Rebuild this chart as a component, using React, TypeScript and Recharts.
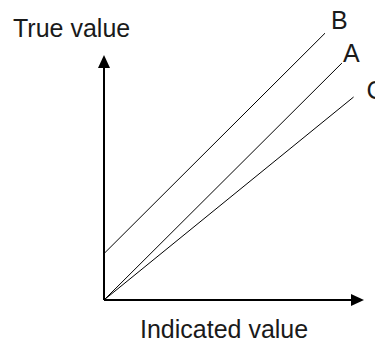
import { LineChart, Line, XAxis, YAxis, ReferenceLine } from "recharts";

// axis extents (arrow tips), in chart units
const axisMaxX = 100;
const axisMaxY = 84.5;

// each calibration line: start and end point
const lineB = [
  { indicated: 0, trueVal: 16 },
  { indicated: 85, trueVal: 92 },
];
const lineA = [
  { indicated: 0, trueVal: 0 },
  { indicated: 91.5, trueVal: 81.7 },
];
const lineC = [
  { indicated: 0, trueVal: 0 },
  { indicated: 96, trueVal: 70 },
];

const seriesNames = ["B", "A", "C"];
const seriesData = [lineB, lineA, lineC];
// label offsets from the end of each line (px)
const labelOffsets = [
  { dx: 6, dy: -4 },
  { dx: 1, dy: -1 },
  { dx: 13, dy: 2 },
];

const FONT = "Arial, 'Liberation Sans', sans-serif";
const INK = "#1a1a1a";

const ArrowAxis = (dir: "x" | "y") => (p: any) => {
  const { x1, y1, x2, y2 } = p;
  const head =
    dir === "y"
      ? `${x2},${y2} ${x2 - 6},${y2 + 13} ${x2 + 6},${y2 + 13}`
      : `${x2},${y2} ${x2 - 13},${y2 - 6} ${x2 - 13},${y2 + 6}`;
  return (
    <g>
      <line x1={x1} y1={y1} x2={dir === "y" ? x2 : x2 - 8} y2={dir === "y" ? y2 + 8 : y2} stroke="#000" strokeWidth={2} />
      <polygon points={head} fill="#000" />
    </g>
  );
};

const endLabel = (name: string, i: number, last: number) => (p: any) => {
  if (p.index !== last) return null;
  const o = labelOffsets[i];
  return (
    <text x={p.x + o.dx} y={p.y + o.dy} fontSize={25} fontFamily={FONT} fill={INK}>
      {name}
    </text>
  );
};

export default function App() {
  return (
    <div style={{ position: "absolute", left: 0, top: 0, width: 375, height: 342, background: "#fff", overflow: "hidden" }}>
      <LineChart width={375} height={342} margin={{ top: 10, right: 11, left: 104, bottom: 42 }}>
        <XAxis type="number" dataKey="indicated" domain={[0, 100]} hide allowDataOverflow />
        <YAxis type="number" dataKey="trueVal" domain={[0, 100]} hide allowDataOverflow />
        <ReferenceLine
          segment={[{ x: 0, y: 0 }, { x: 0, y: axisMaxY }]}
          shape={ArrowAxis("y")}
          ifOverflow="visible"
        />
        <ReferenceLine
          segment={[{ x: 0, y: 0 }, { x: axisMaxX, y: 0 }]}
          shape={ArrowAxis("x")}
          ifOverflow="visible"
        />
        {seriesData.map((d, i) => (
          <Line
            key={seriesNames[i]}
            data={d}
            dataKey="trueVal"
            type="linear"
            stroke="#000"
            strokeWidth={1}
            dot={false}
            activeDot={false}
            isAnimationActive={false}
            label={endLabel(seriesNames[i], i, d.length - 1)}
          />
        ))}
        <text x={13} y={37} fontSize={25} fontFamily={FONT} fill={INK}>
          True value
        </text>
        <text x={140} y={338} fontSize={25} fontFamily={FONT} fill={INK}>
          Indicated value
        </text>
      </LineChart>
    </div>
  );
}
